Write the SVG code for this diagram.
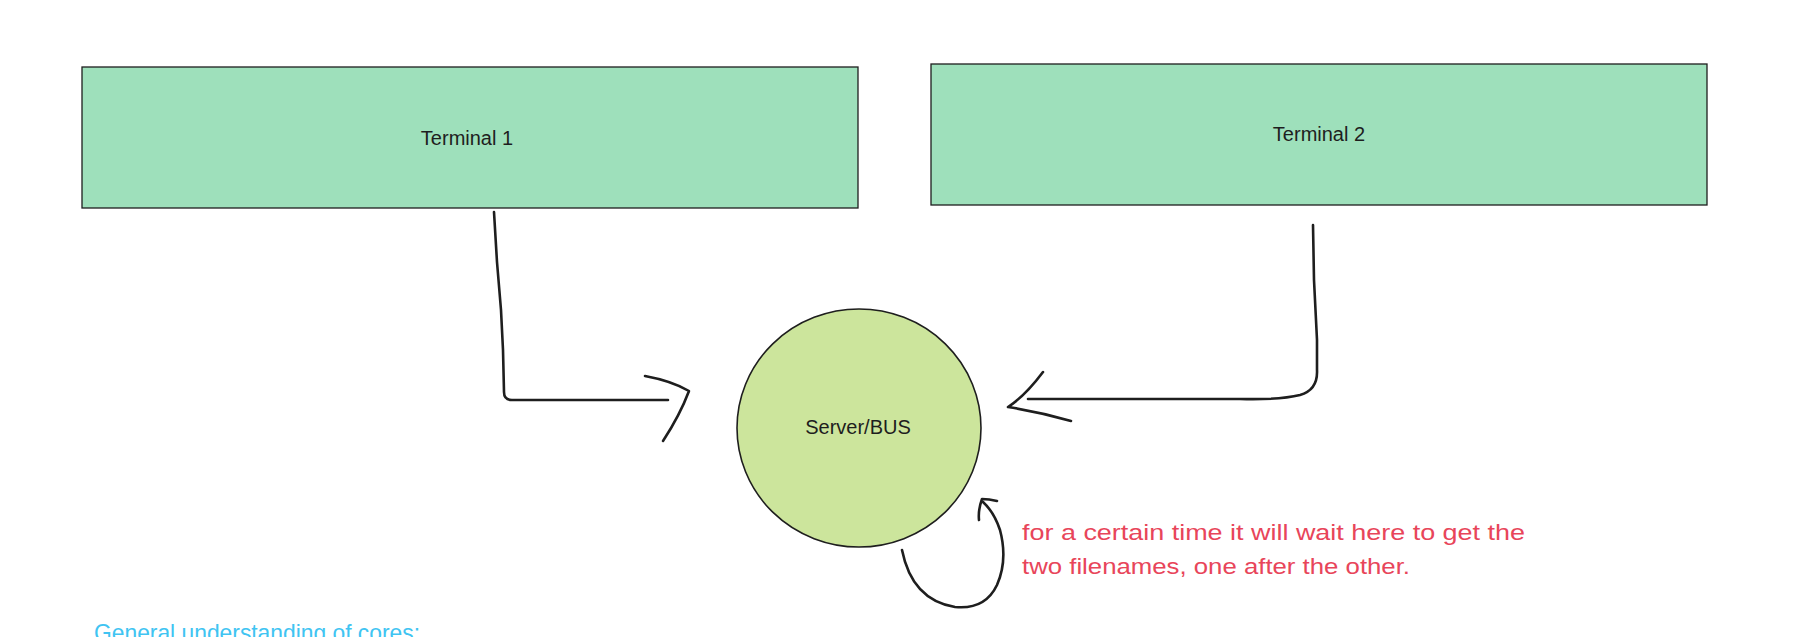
<svg xmlns="http://www.w3.org/2000/svg" width="1813" height="637" viewBox="0 0 1813 637">
<style>
.box{fill:#9ee0bb;stroke:#1e1e1e;stroke-width:1.3}
.circ{fill:#cce59c;stroke:#1e1e1e;stroke-width:1.6}
.lbl{font-family:"Liberation Sans",Arial,sans-serif;font-size:20px;fill:#1e1e1e;text-anchor:middle;dominant-baseline:central}
.conn{fill:none;stroke:#1e1e1e;stroke-width:2.6;stroke-linecap:round;stroke-linejoin:round}
.note{font-family:"Liberation Sans",Arial,sans-serif;font-size:22px;fill:#e8455a}
.note2{font-family:"Liberation Sans",Arial,sans-serif;font-size:24px;fill:#40c4f2}
</style>
<rect width="1813" height="637" fill="#ffffff"/>
<g id="terminal1">
<rect class="box" x="82" y="67" width="776" height="141"/>
<text class="lbl" x="467" y="138">Terminal 1</text>
</g>
<g id="terminal2">
<rect class="box" x="931" y="64" width="776" height="141"/>
<text class="lbl" x="1319" y="134">Terminal 2</text>
</g>
<g id="server">
<ellipse class="circ" cx="859" cy="428" rx="122" ry="119"/>
<text class="lbl" x="858" y="427">Server/BUS</text>
</g>
<g id="connectors">
<path class="conn" d="M494,212 L497,262 L501,310 L503,350 L504,392 Q504,400 512,400 L668,400"/>
<path class="conn" d="M645,376 Q672,381 689,391 Q680,415 663,441"/>
<path class="conn" d="M1313,225 L1314,280 L1317,340 L1317,370 Q1318,390 1300,395 Q1280,400 1240,399 L1028,399"/>
<path class="conn" d="M1043,372 Q1025,396 1008,407 Q1040,412 1071,421"/>
<path class="conn" d="M902,550 Q912,600 955,607 Q985,610 997,585 Q1008,560 1000,530 Q994,512 983,502"/>
<path class="conn" d="M997,501 Q989,499 982,499 Q978,510 979,520"/>
</g>
<g id="note">
<text class="note" x="1022" y="540" textLength="503" lengthAdjust="spacingAndGlyphs">for a certain time it will wait here to get the</text>
<text class="note" x="1022" y="574" textLength="388" lengthAdjust="spacingAndGlyphs">two filenames, one after the other.</text>
</g>
<g id="cores">
<text class="note2" x="94" y="641" textLength="326" lengthAdjust="spacingAndGlyphs">General understanding of cores:</text>
</g>
</svg>
